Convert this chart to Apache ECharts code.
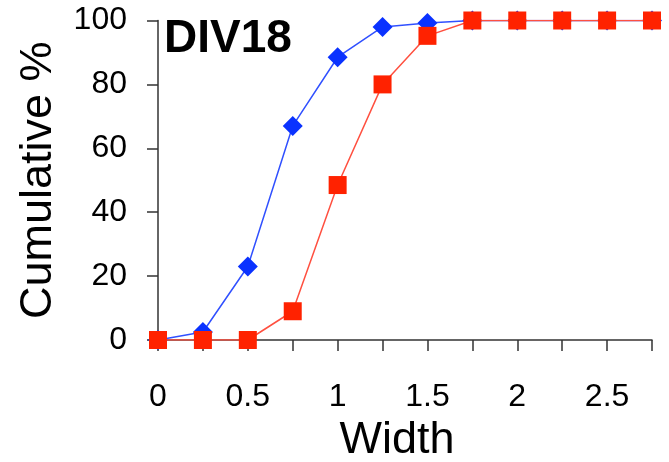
<!DOCTYPE html>
<html>
<head>
<meta charset="utf-8">
<script src="https://cdn.jsdelivr.net/npm/echarts@6/dist/echarts.min.js"></script>
<style>
  html, body { margin: 0; padding: 0; background: #fff; }
  #chart { width: 669px; height: 462px; }
</style>
</head>
<body>
<div id="chart"></div>
<script>
// Width bins (x) and cumulative percentages for the two groups
const widths = [0, 0.25, 0.5, 0.75, 1, 1.25, 1.5, 1.75, 2, 2.25, 2.5, 2.75];
const blueCumulative = [0, 2.5, 23, 67, 88.5, 98, 99.2, 100, 100, 100, 100, 100];
const redCumulative = [0, 0, 0, 9, 48.5, 80, 95.2, 100, 100, 100, 100, 100];
const yTicks = [0, 20, 40, 60, 80, 100];
const panelTitle = 'DIV18';

const FONT = '"Liberation Sans", Arial, sans-serif';
const pairs = (xs, ys) => xs.map((x, i) => [x, ys[i]]);

const chart = echarts.init(document.getElementById('chart'), null, { renderer: 'canvas' });
chart.setOption({
  backgroundColor: '#ffffff',
  animation: false,
  title: {
    text: panelTitle,
    left: 164,
    top: 16,
    padding: 0,
    textStyle: { fontFamily: FONT, fontSize: 46, fontWeight: 'bold', color: '#000' }
  },
  grid: {
    left: 158, right: 17, top: 20.5, bottom: 122,
    containLabel: false,
    outerBoundsMode: 'none'
  },
  xAxis: {
    type: 'value',
    min: 0,
    max: 2.75,
    interval: 0.25,
    name: 'Width',
    nameLocation: 'middle',
    nameGap: 76,
    nameTextStyle: { fontFamily: FONT, fontSize: 45, color: '#000', padding: [0, 16, 0, 0] },
    axisLine: { onZero: false, lineStyle: { color: '#333', width: 1.5 } },
    axisTick: { show: true, length: 11, lineStyle: { color: '#333', width: 1.5 } },
    axisLabel: {
      margin: 41,
      fontFamily: FONT,
      fontSize: 32,
      color: '#000',
      formatter: v => (Math.abs(v * 2 - Math.round(v * 2)) < 1e-9 ? String(v) : '')
    },
    splitLine: { show: false }
  },
  yAxis: {
    type: 'value',
    min: yTicks[0],
    max: yTicks[yTicks.length - 1],
    interval: yTicks[1] - yTicks[0],
    name: 'Cumulative %',
    nameLocation: 'middle',
    nameRotate: 90,
    nameGap: 97,
    nameTextStyle: { fontFamily: FONT, fontSize: 45, color: '#000' },
    axisLine: { show: true, lineStyle: { color: '#333', width: 1.5 } },
    axisTick: { show: true, length: 11, lineStyle: { color: '#333', width: 1.5 } },
    axisLabel: { margin: 31, fontFamily: FONT, fontSize: 32, color: '#000' },
    splitLine: { show: false }
  },
  series: [
    {
      type: 'line',
      data: pairs(widths, blueCumulative),
      symbol: 'diamond',
      symbolSize: 20,
      showAllSymbol: true,
      lineStyle: { color: '#3050ff', width: 1.5 },
      itemStyle: { color: '#0a32ff' },
      z: 2
    },
    {
      type: 'line',
      data: pairs(widths, redCumulative),
      symbol: 'rect',
      symbolSize: 18,
      showAllSymbol: true,
      lineStyle: { color: '#ff5040', width: 1.5 },
      itemStyle: { color: '#ff2200' },
      z: 3
    }
  ]
});
</script>
</body>
</html>
